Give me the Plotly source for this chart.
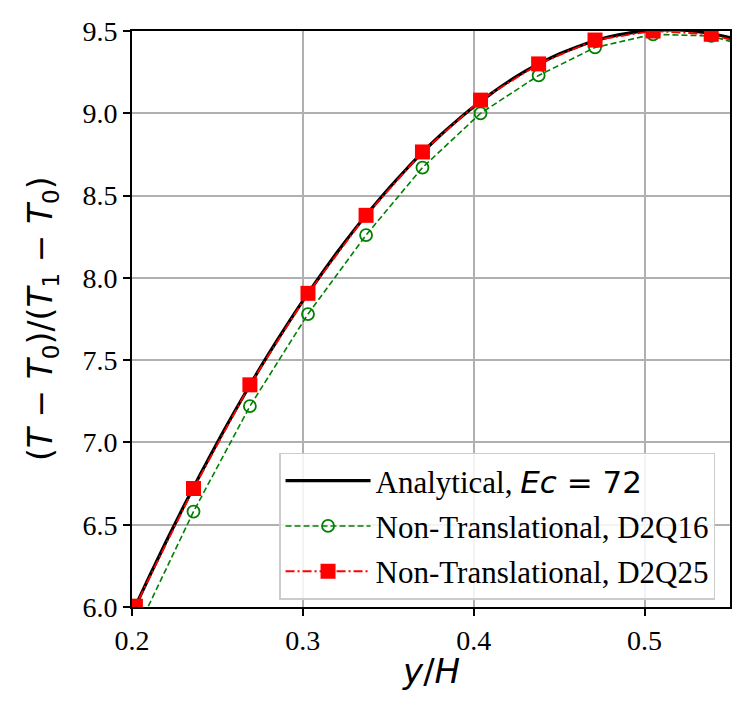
import plotly.graph_objects as go

# Analytical curve
x_an = [0.19, 0.20, 0.21, 0.22, 0.23, 0.24, 0.25, 0.26, 0.27, 0.28, 0.29, 0.30,
        0.31, 0.32, 0.33, 0.34, 0.35, 0.36, 0.37, 0.38, 0.39, 0.40, 0.41, 0.42,
        0.43, 0.44, 0.45, 0.46, 0.47, 0.48, 0.49, 0.50, 0.51, 0.52, 0.53, 0.54,
        0.55, 0.56]
t_an = [5.730, 5.960, 6.182, 6.398, 6.606, 6.806, 7.000, 7.186, 7.366, 7.538,
        7.702, 7.860, 8.010, 8.154, 8.290, 8.418, 8.540, 8.654, 8.762, 8.862,
        8.954, 9.040, 9.118, 9.190, 9.254, 9.310, 9.360, 9.402, 9.438, 9.466,
        9.486, 9.500, 9.506, 9.506, 9.498, 9.482, 9.460, 9.430]

# Simulation points
x_sim = [0.168, 0.202, 0.236, 0.269, 0.303, 0.337, 0.370, 0.404, 0.438, 0.471,
         0.505, 0.539, 0.572]
t_d2q16 = [5.00, 5.84, 6.58, 7.22, 7.78, 8.26, 8.67, 9.00, 9.23, 9.40,
           9.48, 9.47, 9.37]
t_d2q25 = [5.20, 6.005, 6.72, 7.35, 7.906, 8.38, 8.765, 9.08, 9.30, 9.445,
           9.50, 9.48, 9.385]

x_ticks = [0.2, 0.3, 0.4, 0.5]
x_tick_labels = ["0.2", "0.3", "0.4", "0.5"]
y_ticks = [6.0, 6.5, 7.0, 7.5, 8.0, 8.5, 9.0, 9.5]
y_tick_labels = ["6.0", "6.5", "7.0", "7.5", "8.0", "8.5", "9.0", "9.5"]

x_title = "<i>y</i>/<i>H</i>"
y_title = "(<i>T</i> \u2212 <i>T</i><sub>0</sub>)/(<i>T</i><sub>1</sub> \u2212 <i>T</i><sub>0</sub>)"

serif = "Liberation Serif"
sans = "DejaVu Sans"

fig = go.Figure()
fig.add_trace(go.Scatter(
    x=x_an, y=t_an, mode="lines", line=dict(color="black", width=3.2, shape="spline"),
    name='Analytical, <span style="font-family:DejaVu Sans"><i>Ec</i> = 72</span>',
    legendgroup="a"))
fig.add_trace(go.Scatter(
    x=x_sim, y=t_d2q16, mode="lines+markers",
    line=dict(color="green", width=1.6, dash="6px,3px"),
    marker=dict(symbol="circle-open", size=12, color="green", line=dict(width=1.8, color="green")),
    name="Non-Translational, D2Q16", legendgroup="b"))
fig.add_trace(go.Scatter(
    x=x_sim, y=t_d2q25, mode="lines+markers",
    line=dict(color="red", width=1.8, dash="9px,3px,2px,3px"),
    marker=dict(symbol="square", size=15, color="red"),
    name="Non-Translational, D2Q25", legendgroup="c"))

annotations = [
    dict(x=0.5, xref="paper", y=0, yref="paper", xanchor="center", yanchor="top",
         yshift=-42, text=x_title, showarrow=False,
         font=dict(family=sans, size=34, color="black")),
    dict(x=0, xref="paper", y=0.5, yref="paper", xanchor="center", yanchor="middle",
         xshift=-90, textangle=-90, text=y_title, showarrow=False,
         font=dict(family=sans, size=33, color="black")),
]

fig.update_layout(
    template="none",
    width=733, height=707,
    margin=dict(l=124, r=11, t=23, b=108),
    plot_bgcolor="white", paper_bgcolor="white",
    font=dict(family=serif, size=28, color="black"),
    showlegend=True,
    legend=dict(
        x=0.975, y=0.013, xanchor="right", yanchor="bottom",
        bgcolor="rgba(255,255,255,0.85)", bordercolor="#cccccc", borderwidth=1.5,
        font=dict(family=serif, size=31, color="black"),
        traceorder="grouped", tracegroupgap=2, itemwidth=85,
    ),
    xaxis=dict(
        range=[0.2, 0.55], tickvals=x_ticks, ticktext=x_tick_labels,
        showgrid=True, gridcolor="#b0b0b0", gridwidth=1.5,
        showline=True, linecolor="black", linewidth=1.8, mirror=True,
        ticks="outside", ticklen=7, tickwidth=1.5, tickcolor="black",
        zeroline=False, automargin=False,
        tickfont=dict(family=serif, size=28, color="black"),
    ),
    yaxis=dict(
        range=[6.0, 9.5], tickvals=y_ticks, ticktext=y_tick_labels,
        showgrid=True, gridcolor="#b0b0b0", gridwidth=1.5,
        showline=True, linecolor="black", linewidth=1.8, mirror=True,
        ticks="outside", ticklen=7, tickwidth=1.5, tickcolor="black",
        zeroline=False, automargin=False,
        tickfont=dict(family=serif, size=28, color="black"),
    ),
    annotations=annotations,
)

fig.write_html("out.html")
